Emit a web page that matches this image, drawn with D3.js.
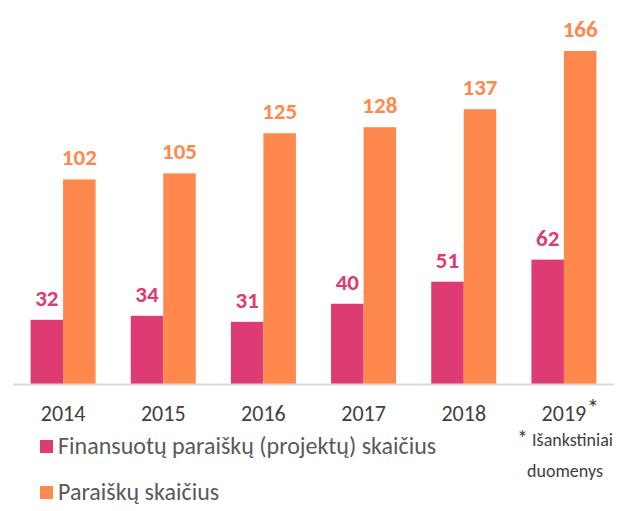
<!DOCTYPE html>
<html>
<head>
<meta charset="utf-8">
<script src="https://cdn.jsdelivr.net/npm/d3@7"></script>
<style>
  body { margin: 0; background: #fff; }
  svg text { font-family: Carlito, Lato, "Open Sans", sans-serif; }
</style>
</head>
<body>
<svg id="chart" width="627" height="511"></svg>
<script>
const YEARS = ["2014", "2015", "2016", "2017", "2018", "2019"];
const FUNDED = [32, 34, 31, 40, 51, 62];
const APPLICATIONS = [102, 105, 125, 128, 137, 166];
const SERIES_NAMES = ["Finansuotų paraiškų (projektų) skaičius", "Paraiškų skaičius"];
const COLORS = ["#dc3b74", "#ff884c"];

const svg = d3.select("#chart");
const left = 13, right = 614, baseline = 384;

const x = d3.scaleBand().domain(YEARS).range([left, right]);
const y = d3.scaleLinear().domain([0, 166]).range([baseline, 51]);
const barW = 32.5;

const rows = YEARS.map((yr, i) => ({ yr, vals: [FUNDED[i], APPLICATIONS[i]] }));

const g = svg.append("g");
rows.forEach(r => {
  const cx = x(r.yr) + x.bandwidth() / 2;
  r.vals.forEach((v, k) => {
    const bx = cx - barW + k * barW;
    g.append("rect")
      .attr("x", bx)
      .attr("y", y(v))
      .attr("width", barW)
      .attr("height", baseline - y(v))
      .attr("fill", COLORS[k]);
    g.append("text")
      .attr("x", bx + barW / 2)
      .attr("y", y(v) - 14)
      .attr("text-anchor", "middle")
      .attr("font-size", "23px")
      .attr("font-weight", "bold")
      .attr("fill", COLORS[k])
      .text(v);
  });
});

// axis line
svg.append("line")
  .attr("x1", left).attr("x2", right)
  .attr("y1", baseline + 0.5).attr("y2", baseline + 0.5)
  .attr("stroke", "#d9d9d9").attr("stroke-width", 2);

// year labels
svg.selectAll(".yr")
  .data(YEARS)
  .join("text")
  .attr("class", "yr")
  .attr("x", d => x(d) + x.bandwidth() / 2)
  .attr("y", 421)
  .attr("text-anchor", "middle")
  .attr("font-size", "22px")
  .attr("fill", "#404040")
  .text(d => d);

svg.append("text")
  .attr("x", x("2019") + x.bandwidth() / 2 + 23)
  .attr("y", 416)
  .attr("font-size", "24px")
  .attr("fill", "#404040")
  .text("*");

// footnote
const note = svg.append("text")
  .attr("x", 565).attr("y", 446)
  .attr("text-anchor", "middle")
  .attr("font-size", "18px")
  .attr("fill", "#404040");
note.append("tspan").attr("font-size", "22px").text("*");
note.append("tspan").text(" Išankstiniai");
svg.append("text")
  .attr("x", 565).attr("y", 477)
  .attr("text-anchor", "middle")
  .attr("font-size", "18px")
  .attr("fill", "#404040")
  .text("duomenys");

// legend
const legend = svg.selectAll(".lg")
  .data(SERIES_NAMES)
  .join("g")
  .attr("class", "lg")
  .attr("transform", (d, i) => `translate(40,${440 + i * 46})`);
legend.append("rect")
  .attr("width", 13).attr("height", 13)
  .attr("fill", (d, i) => COLORS[i]);
legend.append("text")
  .attr("x", 18).attr("y", 14)
  .attr("font-size", "24px")
  .attr("fill", "#595959")
  .text(d => d);
</script>
</body>
</html>
